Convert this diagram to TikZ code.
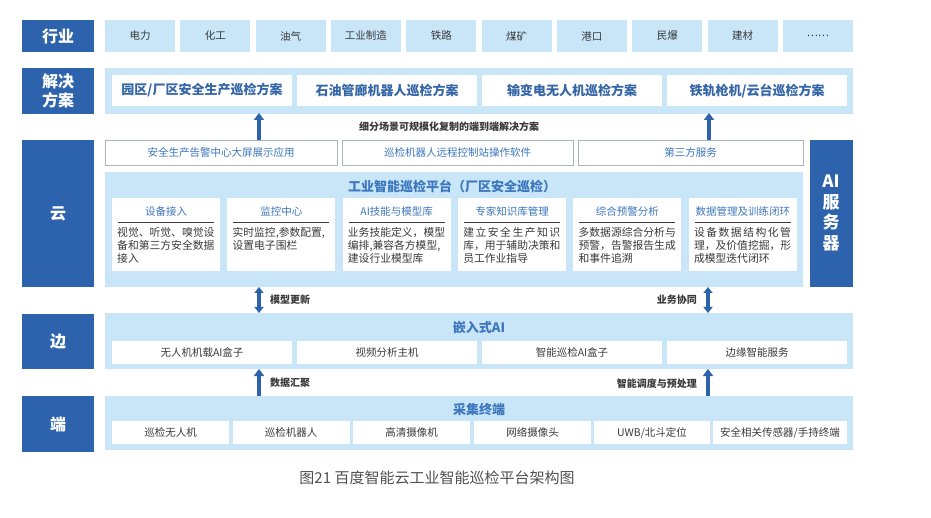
\documentclass[tikz,border=0pt]{standalone}
\usepackage{fontspec}
\setmainfont{Noto Sans CJK SC}
\usetikzlibrary{arrows.meta}
\definecolor{dkblue}{HTML}{2D62AC}
\definecolor{ltblue}{HTML}{C8E6F8}
\definecolor{ttlblue}{HTML}{3C76BC}
\definecolor{solblue}{HTML}{3566A6}
\definecolor{txtgray}{HTML}{3A3A3A}
\definecolor{capgray}{HTML}{505050}
\definecolor{bordergray}{HTML}{A9B5C2}
\newcommand\bx[7]{\node[#6, minimum width={#4-#2}, minimum height={#5-#3}, inner sep=0pt, outer sep=0pt] (#1) at ({(#2+#4)/2},{(#3+#5)/2}) {#7};}
\newcommand\fs[1]{\fontsize{#1}{#1}\selectfont}
\tikzset{
  lbl/.style={fill=dkblue, text=white, font=\fontsize{16}{19}\selectfont\bfseries, align=center},
  panel/.style={fill=ltblue},
  ind/.style={fill=ltblue, text=txtgray, font=\fs{10.5}},
  sol/.style={fill=white, text=solblue, font=\fs{13}\bfseries},
  topbox/.style={fill=white, draw=bordergray, line width=0.8pt, text=ttlblue, font=\fs{10.5}},
  card/.style={fill=white},
  whitebox/.style={fill=white, text=txtgray, font=\fs{10.5}},
  ptitle/.style={text=ttlblue, font=\fs{13}\bfseries},
  ctitle/.style={text=ttlblue, font=\fs{10.5}},
  cbody/.style={text=txtgray, font=\fontsize{10.8}{13}\selectfont, align=left, inner sep=0pt, anchor=north west},
  alabel/.style={text=txtgray, font=\fs{10}\bfseries, inner sep=0pt},
  uparrow/.style={draw=dkblue, line width=3.6pt, -{Triangle[width=10pt,length=7pt]}},
  dblarrow/.style={draw=dkblue, line width=3.6pt, {Triangle[width=9pt,length=6pt]}-{Triangle[width=9pt,length=6pt]}},
  crule/.style={draw=txtgray, line width=0.8pt}
}
\begin{document}
\begin{tikzpicture}[x=1pt,y=-1pt]
\useasboundingbox[fill=white] (0,0) rectangle (931,518);
% left labels
\bx{Lhy}{22}{20}{94}{52}{lbl}{行业}
\bx{Ljj}{22}{68}{94}{114}{lbl}{解决\\方案}
\bx{Lyun}{22}{140}{94}{287}{lbl}{云}
\bx{Lbian}{22}{314}{94}{369}{lbl}{边}
\bx{Lduan}{22}{396}{94}{452}{lbl}{端}
% industries
\foreach \t [count=\i from 0] in {电力,化工,油气,工业制造,铁路,煤矿,港口,民爆,建材,……}{
  \pgfmathsetmacro\xa{105+\i*75.33}
  \pgfmathsetmacro\xb{\xa+70}
  \bx{ind\i}{\xa}{20}{\xb}{52}{ind}{\t}
}
% solutions
\bx{solpanel}{105}{68}{853}{114}{panel}{}
\bx{sol1}{112}{75}{292}{106}{sol}{园区/厂区安全生产巡检方案}
\bx{sol2}{297}{75}{477}{106}{sol}{石油管廊机器人巡检方案}
\bx{sol3}{482}{75}{662}{106}{sol}{输变电无人机巡检方案}
\bx{sol4}{667}{75}{847}{106}{sol}{铁轨枪机/云台巡检方案}
% cloud top row
\bx{top1}{105}{140}{337}{165}{topbox}{安全生产告警中心大屏展示应用}
\bx{top2}{342}{140}{573}{165}{topbox}{巡检机器人远程控制站操作软件}
\bx{top3}{578}{140}{803}{165}{topbox}{第三方服务}
% arrows to solutions
\coordinate (a1s) at (259,140);
\coordinate (a1e) at (259,113);
\coordinate (a2s) at (709,140);
\coordinate (a2e) at (709,113);
\draw[uparrow] (a1s) -- (a1e);
\draw[uparrow] (a2s) -- (a2e);
\node[alabel] (l1) at (449,127) {细分场景可规模化复制的端到端解决方案};
% platform
\bx{plat}{105}{172}{803}{287}{panel}{}
\node[ptitle] (pt) at (452,186) {工业智能巡检平台（厂区安全巡检）};
\foreach \t/\b [count=\i from 0] in {
  设备接入/{视觉、听觉、嗅觉设\\备和第三方安全数据\\接入},
  监控中心/{实时监控,参数配置,\\设置电子围栏},
  AI技能与模型库/{业务技能定义，模型\\编排,兼容各方模型,\\建设行业模型库},
  专家知识库管理/{\makebox[97pt][s]{建\hfill 立\hfill 安\hfill 全\hfill 生\hfill 产\hfill 知\hfill 识}\\库，用于辅助决策和\\员工作业指导},
  综合预警分析/{多数据源综合分析与\\预警，告警报告生成\\和事件追溯},
  数据管理及训练闭环/{\makebox[97pt][s]{设\hfill 备\hfill 数\hfill 据\hfill 结\hfill 构\hfill 化\hfill 管}\\理，及价值挖掘，形\\成模型迭代闭环}}{
  \pgfmathsetmacro\xa{112+\i*115.36}
  \pgfmathsetmacro\xb{\xa+108}
  \pgfmathsetmacro\xc{\xa+54}
  \bx{card\i}{\xa}{198}{\xb}{271}{card}{}
  \node[ctitle] (ct\i) at (\xc,212) {\t};
  \coordinate (rl\i) at (\xa+6,222);
  \coordinate (rr\i) at (\xb-6,222);
  \draw[crule] (rl\i) -- (rr\i);
  \node[cbody] (cb\i) at (\xa+5,227.5) {\b};
}
% AI server
\bx{aiserver}{810}{140}{853}{287}{lbl}{}
\node[text=white, font=\fontsize{17}{20.5}\selectfont\bfseries, align=center, inner sep=0pt] (aitxt) at (831,213) {AI\\服\\务\\器};
% arrows cloud-edge
\coordinate (d1s) at (259,287);
\coordinate (d1e) at (259,313);
\coordinate (d2s) at (708,287);
\coordinate (d2e) at (708,313);
\draw[dblarrow] (d1s) -- (d1e);
\draw[dblarrow] (d2s) -- (d2e);
\node[alabel, anchor=west] (l2) at (270,300) {模型更新};
\node[alabel, anchor=east] (l3) at (697,300) {业务协同};
% edge
\bx{edge}{105}{313}{853}{369}{panel}{}
\node[ptitle] (et) at (479,328) {嵌入式AI};
\bx{e1}{112}{341}{292}{364}{whitebox}{无人机机载AI盒子}
\bx{e2}{297}{341}{477}{364}{whitebox}{视频分析主机}
\bx{e3}{482}{341}{662}{364}{whitebox}{智能巡检AI盒子}
\bx{e4}{667}{341}{847}{364}{whitebox}{边缘智能服务}
% arrows edge-end
\coordinate (u1s) at (259,396);
\coordinate (u1e) at (259,369);
\coordinate (u2s) at (708,396);
\coordinate (u2e) at (708,369);
\draw[uparrow] (u1s) -- (u1e);
\draw[uparrow] (u2s) -- (u2e);
\node[alabel, anchor=west] (l4) at (270,383) {数据汇聚};
\node[alabel, anchor=east] (l5) at (697,384) {智能调度与预处理};
% end
\bx{endp}{105}{396}{853}{450}{panel}{}
\node[ptitle] (ent) at (479,410) {采集终端};
\bx{t1}{112}{421}{229}{444}{whitebox}{巡检无人机}
\bx{t2}{232.5}{421}{349.5}{444}{whitebox}{巡检机器人}
\bx{t3}{353}{421}{470}{444}{whitebox}{高清摄像机}
\bx{t4}{474}{421}{591}{444}{whitebox}{网络摄像头}
\bx{t5}{594}{421}{710}{444}{whitebox}{UWB/北斗定位}
\bx{t6}{713}{421}{847}{444}{whitebox}{安全相关传感器/手持终端}
% caption
\node[text=capgray, font=\fs{15}] (cap) at (437,478) {图21 百度智能云工业智能巡检平台架构图};
\end{tikzpicture}
\end{document}
